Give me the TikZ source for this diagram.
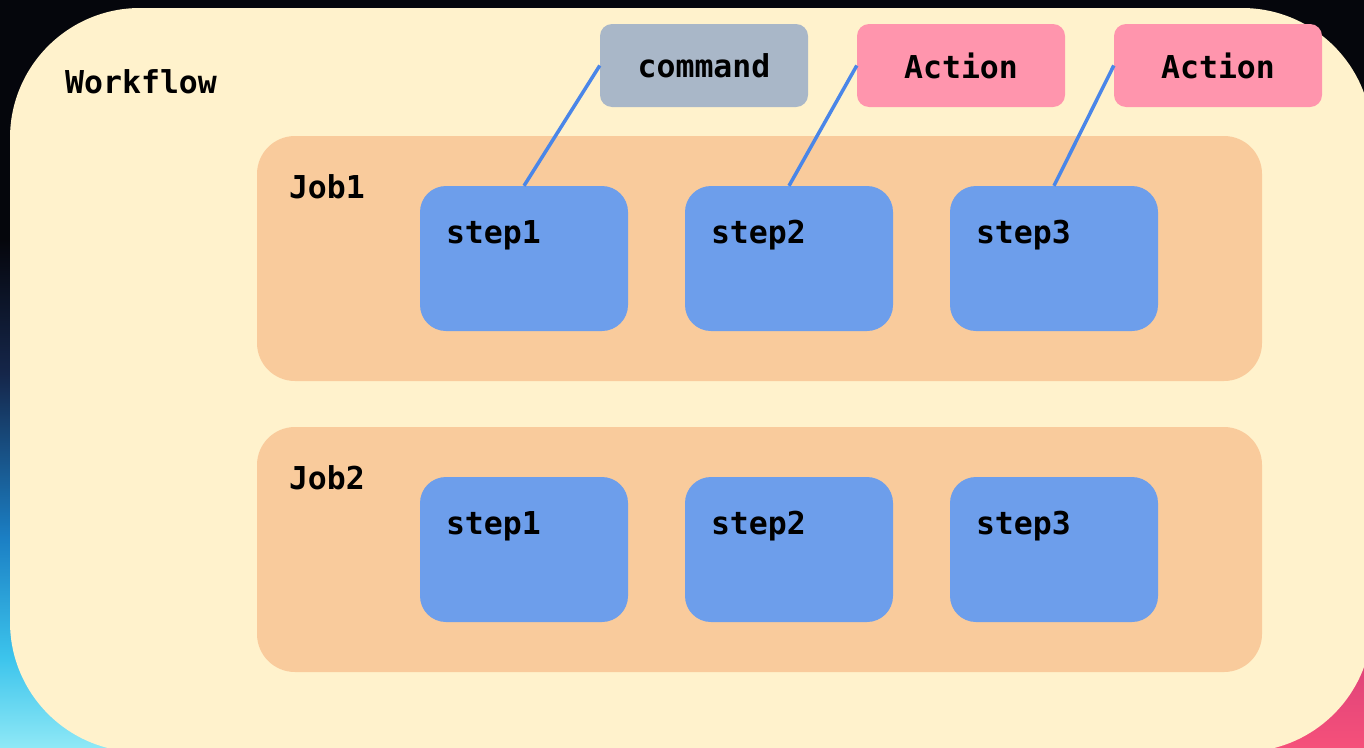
\documentclass[tikz,border=0pt]{standalone}
\usepackage{fontspec}
\setmonofont{DejaVu Sans Mono}
\usetikzlibrary{calc}

\definecolor{bgdark}{HTML}{05060C}
\definecolor{bgnavy}{HTML}{15264A}
\definecolor{bgblue}{HTML}{1B7FC4}
\definecolor{bgcyan}{HTML}{3CC4EC}
\definecolor{bglight}{HTML}{8EE8F6}
\definecolor{bgpinkA}{HTML}{F5507A}
\definecolor{bgpinkB}{HTML}{D9407A}
\definecolor{wfcream}{HTML}{FFF2CC}
\definecolor{jobfill}{HTML}{F9CB9C}
\definecolor{stepfill}{HTML}{6D9EEB}
\definecolor{cmdfill}{HTML}{A9B7C8}
\definecolor{actfill}{HTML}{FF95AD}
\definecolor{connblue}{HTML}{4A86E8}

% the filled path is mapped onto the band 25bp..75bp of a 100bp shading
\pgfdeclareverticalshading{leftbg}{100bp}{color(0bp)=(bglight); color(25bp)=(bglight); color(31bp)=(bgcyan); color(39bp)=(bgblue); color(50bp)=(bgnavy); color(59bp)=(bgdark); color(100bp)=(bgdark)}
\pgfdeclareverticalshading{rightbg}{100bp}{color(0bp)=(bgpinkA); color(25bp)=(bgpinkA); color(32bp)=(bgpinkB); color(47bp)=(bgdark); color(100bp)=(bgdark)}

\tikzset{
  txt/.style={font=\ttfamily\bfseries\fontsize{31.5}{38}\selectfont, text=black, inner sep=0pt},
  jobbox/.style={fill=jobfill, rounded corners=38pt, minimum width=1005pt, minimum height=245pt, inner sep=0pt},
  stepbox/.style={fill=stepfill, rounded corners=26pt, minimum width=208pt, minimum height=145pt, inner sep=0pt},
  tagbox/.style={rounded corners=12pt, minimum width=208pt, minimum height=83pt, inner sep=0pt,
    font=\ttfamily\bfseries\fontsize{31.5}{38}\selectfont, text=black},
  cmdbox/.style={tagbox, fill=cmdfill},
  actbox/.style={tagbox, fill=actfill},
  conn/.style={draw=connblue, line width=3.5pt}
}

\begin{document}
\begin{tikzpicture}[x=1pt, y=-1pt]
  \useasboundingbox (0,0) rectangle (1364,747);

  % backdrop gradient
  \shade[shading=leftbg] (0,0) rectangle (682,747);
  \shade[shading=rightbg] (682,0) rectangle (1364,747);

  % workflow frame
  \fill[wfcream, rounded corners=130pt] (10,8) rectangle (1372,752);
  \node[txt, anchor=base west] (wflabel) at (65,93) {Workflow};

  % jobs
  \node[jobbox] (job1) at (759.5,258.5) {};
  \node[jobbox] (job2) at (759.5,549.5) {};
  \node[txt, anchor=base west] (job1label) at ($(job1.north west)+(32,63)$) {Job1};
  \node[txt, anchor=base west] (job2label) at ($(job2.north west)+(32,63)$) {Job2};

  % steps of Job1
  \node[stepbox] (s11) at (524,258.5) {};
  \node[stepbox] (s12) at (789,258.5) {};
  \node[stepbox] (s13) at (1054,258.5) {};
  % steps of Job2
  \node[stepbox] (s21) at (524,549.5) {};
  \node[stepbox] (s22) at (789,549.5) {};
  \node[stepbox] (s23) at (1054,549.5) {};

  \foreach \n/\t in {s11/step1, s12/step2, s13/step3, s21/step1, s22/step2, s23/step3}
    \node[txt, anchor=base west] (\n label) at ($(\n.north west)+(26,58)$) {\t};

  % what each step runs
  \node[cmdbox] (cmd) at (704,65.5) {command};
  \node[actbox] (act1) at (961,65.5) {Action};
  \node[actbox] (act2) at (1218,65.5) {Action};

  \draw[conn] (s11.north) -- (cmd.west);
  \draw[conn] (s12.north) -- (act1.west);
  \draw[conn] (s13.north) -- (act2.west);
\end{tikzpicture}
\end{document}
